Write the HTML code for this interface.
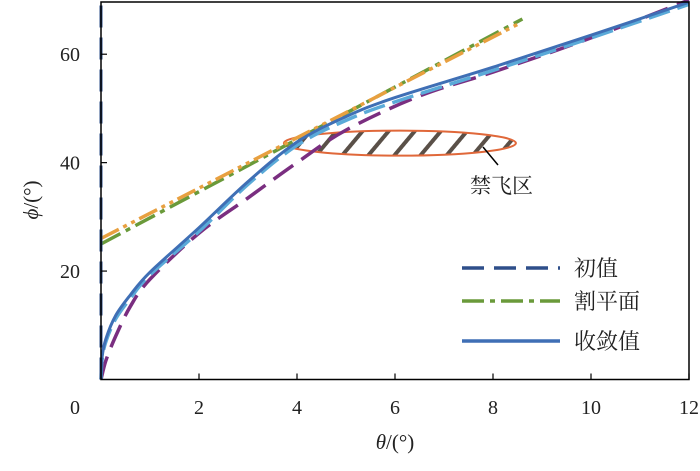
<!DOCTYPE html>
<html><head><meta charset="utf-8"><style>
body{margin:0;background:#fff;}
text{font-family:"Liberation Serif","Noto Serif CJK SC",serif;fill:#222;}
</style></head><body>
<svg id="c" width="700" height="466"></svg>
<script>
const xTicks=[2,4,6,8,10,12];
const yTicks=[20,40,60];
const convTheta=[0,0.02,0.1,0.3,0.6,1,2,3,4,5,6,8,10,12];
const convPhi=[0,4,7.5,11.8,15.6,19.8,28,36.5,43.8,48.5,52,57.6,63.5,69.6];
const lbTheta=[0,0.02,0.1,0.3,0.6,1,2,3,4,5,6,8,10,12];
const lbPhi=[0,3.6,7,11.2,15,19.3,27.3,36,43.2,47.8,51.2,57,63,69.2];
const purTheta=[0,0.1,0.3,0.6,1,2,3,4,5,6.5,8,10,12];
const purPhi=[0,3.5,8,13.5,18.5,27,33.5,40,46,52.3,56.7,63,70];
const greenTheta=[0,8.6];
const greenPhi=[25,66.5];
const orangeTheta=[0,8.5];
const orangePhi=[26,65.5];
const initTheta=[0,0];
const initPhi=[0,70];
const NS='http://www.w3.org/2000/svg';
const svg=document.getElementById('c');
const X0=101,X1=689,Y0=379.5,Y1=0;
const sx=v=>X0+(X1-X0)*v/12;
const sy=v=>Y0+(Y1-Y0)*v/70;
function mk(t,a,p){const e=document.createElementNS(NS,t);for(const k in a)e.setAttribute(k,a[k]);(p||svg).appendChild(e);return e;}
function smooth(P){
  if(P.length<3)return 'M'+P.map(p=>p[0].toFixed(1)+','+p[1].toFixed(1)).join('L');
  let d='M'+P[0][0].toFixed(1)+','+P[0][1].toFixed(1);
  for(let i=0;i<P.length-1;i++){
    const p0=P[Math.max(i-1,0)],p1=P[i],p2=P[i+1],p3=P[Math.min(i+2,P.length-1)];
    const c1=[p1[0]+(p2[0]-p0[0])/6,p1[1]+(p2[1]-p0[1])/6];
    const c2=[p2[0]-(p3[0]-p1[0])/6,p2[1]-(p3[1]-p1[1])/6];
    d+='C'+c1.map(v=>v.toFixed(1)).join(',')+' '+c2.map(v=>v.toFixed(1)).join(',')+' '+p2[0].toFixed(1)+','+p2[1].toFixed(1);
  }
  return d;
}
function line(th,ph,color,w,dash,name){
  const P=th.map((t,i)=>[sx(t),sy(ph[i])]);
  const p=mk('path',{d:smooth(P),fill:'none',stroke:color,'stroke-width':w,'stroke-dasharray':dash||'none','stroke-linejoin':'round'});
  
  
}
const defs=mk('defs',{});
const pat=mk('pattern',{id:'h',width:20,height:20,patternUnits:'userSpaceOnUse',patternTransform:'rotate(40)'},defs);
mk('rect',{x:0,y:0,width:4,height:20,fill:'#5a5048'},pat);
const el=mk('ellipse',{cx:sx(6.1),cy:sy(43.6),rx:116,ry:12.5,fill:'url(#h)',stroke:'#e0683a','stroke-width':2});


const ll=mk('line',{x1:483,y1:147,x2:498,y2:165,stroke:'#000','stroke-width':1.5});


const nt=mk('text',{x:470,y:193,'font-size':21});nt.textContent='禁飞区';


line(greenTheta,greenPhi,'#6a9a3a',3.5,'22 6 5 6','green-cut-plane');
line(orangeTheta,orangePhi,'#e8a040',3.5,'20 5 4 5 4 5','orange-dash-dot');
line(purTheta,purPhi,'#7a2e80',3.5,'24 10','purple-dashed');
line(lbTheta,lbPhi,'#5aaad8',3.5,'22 8','lightblue-dashed');
line(convTheta,convPhi,'#a03030',1,null,'red-thin');
line(convTheta,convPhi,'#3f6fb5',3,null,'converged-line');
line(initTheta,initPhi,'#2e4f8a',3,'22 10','initial-vertical');
const bx=mk('rect',{x:X0,y:2,width:X1-X0,height:Y0-2,fill:'none',stroke:'#000','stroke-width':1.5});


xTicks.forEach(t=>{
  mk('line',{x1:sx(t),y1:Y0,x2:sx(t),y2:Y0-6,stroke:'#000','stroke-width':1.2});
  const tx=mk('text',{x:sx(t),y:414,'font-size':20,'text-anchor':'middle'});tx.textContent=t;
  
  
});
yTicks.forEach(t=>{
  mk('line',{x1:X0,y1:sy(t),x2:X0+6,y2:sy(t),stroke:'#000','stroke-width':1.2});
  const tx=mk('text',{x:80,y:sy(t)+7,'font-size':20,'text-anchor':'end'});tx.textContent=t;
  
  
});
const z=mk('text',{x:80,y:414,'font-size':20,'text-anchor':'end'});z.textContent='0';


const xt=mk('text',{x:395,y:449,'font-size':21,'text-anchor':'middle'});
xt.innerHTML='<tspan font-style="italic">θ</tspan>/(°)';


const yt=mk('text',{x:0,y:0,'font-size':21,'text-anchor':'middle',transform:'translate(38,200) rotate(-90)'});
yt.innerHTML='<tspan font-style="italic">ϕ</tspan>/(°)';


const leg=[['初值','#2e4f8a','22 10',268],['割平面','#6a9a3a','22 6 5 6',301],['收敛值','#3f6fb5','none',341]];
leg.forEach(l=>{
  const g=mk('g',{});
  
  
  mk('line',{x1:462,y1:l[3],x2:560,y2:l[3],stroke:l[1],'stroke-width':3.5,'stroke-dasharray':l[2]},g);
  const t=mk('text',{x:574,y:l[3]+8,'font-size':22},g);t.textContent=l[0];
});
</script>
</body></html>
